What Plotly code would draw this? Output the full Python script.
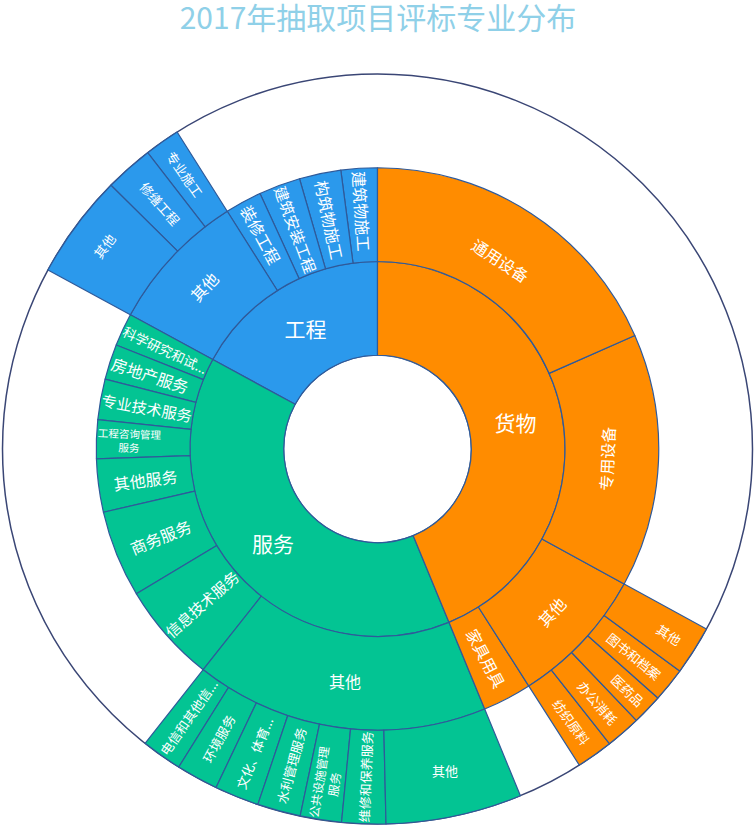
import plotly.graph_objects as go

# ---------------- data (clockwise order from 12 o'clock) ----------------
title_text = "2017年抽取项目评标专业分布"

top_names = ["货物", "服务", "工程"]

goods_names = ["通用设备", "专用设备", "其他", "家具用具"]
goods_values = [66.2, 52.5, 0, 10.15]
goods_other_names = ["其他", "图书和档案", "医药品", "办公消耗", "纺织原料"]
goods_other_values = [7.6, 5.3, 4.75, 5.45, 5.65]

service_names = ["其他", "信息技术服务", "商务服务", "其他服务", "工程咨询管理<br>服务",
                 "专业技术服务", "房地产服务", "科学研究和试..."]
service_values = [0, 20.7, 18.0, 11.0, 8.0, 8.4, 7.3, 6.8]
service_other_names = ["其他", "维修和保养服务", "公共设施管理<br>服务", "水利管理服务",
                       "文化、体育...", "环境服务", "电信和其他信..."]
service_other_values = [21.1, 6.8, 6.4, 6.7, 6.9, 6.5, 6.3]

eng_names = ["其他", "装修工程", "建筑安装工程", "构筑物施工", "建筑物施工"]
eng_values = [0, 7.6, 8.6, 8.6, 7.5]
eng_other_names = ["其他", "修缮工程", "专业施工"]
eng_other_values = [16.2, 7.5, 5.5]

# ---------------- styles ----------------
top_colors = {"货物": "#ff8c00", "服务": "#03c493", "工程": "#2b99ec"}
level_font = {0: 1, 1: 21, 2: 16, 3: 13}
border_color = "#2f5a9a"
circle_color = "#3a4675"
horizontal_ids = {"货物", "服务", "工程", "服务/其他", "服务/其他/其他"}
tangential_ids = {"货物/通用设备", "货物/专用设备", "货物/其他", "工程/其他", "工程/其他/其他"}

ids, labels, parents, values, colors, fsizes = [], [], [], [], [], []


def add(node_id, label, parent, value, color, level):
    ids.append(node_id)
    labels.append(label)
    parents.append(parent)
    values.append(value)
    colors.append(color)
    fsizes.append(level_font[level])


add("root", "", "", 0, "#ffffff", 0)

children = {
    "货物": (goods_names, goods_values, {"其他": (goods_other_names, goods_other_values)}),
    "服务": (service_names, service_values, {"其他": (service_other_names, service_other_values)}),
    "工程": (eng_names, eng_values, {"其他": (eng_other_names, eng_other_values)}),
}

# plotly lays slices counter-clockwise, so feed each level reversed
for top in reversed(top_names):
    col = top_colors[top]
    add(top, top, "root", 0, col, 1)
    names, vals, subs = children[top]
    for name, val in reversed(list(zip(names, vals))):
        nid = top + "/" + name
        add(nid, name, top, val, col, 2)
        if name in subs:
            snames, svals = subs[name]
            for sname, sval in reversed(list(zip(snames, svals))):
                add(nid + "/" + sname, sname, nid, sval, col, 3)


def group_of(i):
    if ids[i] in horizontal_ids:
        return "horizontal"
    if ids[i] in tangential_ids:
        return "tangential"
    return "radial"


W, H = 756, 829
cx, cy, R = 377.5, 449, 375
dom = dict(x=[(cx - R) / W, (cx + R) / W], y=[1 - (cy + R) / H, 1 - (cy - R) / H])
n = len(ids)

fig = go.Figure()
for k, orient in enumerate(["horizontal", "tangential", "radial"]):
    texts = [labels[i] if (group_of(i) == orient and labels[i]) else "" for i in range(n)]
    base = k == 0
    fig.add_trace(go.Sunburst(
        ids=ids, labels=labels, parents=parents, values=values,
        branchvalues="remainder", sort=False, rotation=90,
        marker=dict(colors=colors if base else ["rgba(0,0,0,0)"] * n,
                    line=dict(color=border_color if base else "rgba(0,0,0,0)",
                              width=1.2 if base else 0)),
        leaf=dict(opacity=1),
        text=texts, textinfo="text",
        insidetextorientation=orient,
        textfont=dict(color="white", size=fsizes, family="Noto Sans CJK SC"),
        hovertext=[l.replace("<br>", "") for l in labels],
        hoverinfo="text+value" if base else "skip",
        domain=dom,
    ))

fig.add_shape(type="circle", xref="paper", yref="paper", layer="below",
              x0=dom["x"][0], x1=dom["x"][1], y0=dom["y"][0], y1=dom["y"][1],
              fillcolor="white", line=dict(color=circle_color, width=1.5))

fig.update_layout(
    width=W, height=H,
    margin=dict(l=0, r=0, t=0, b=0),
    paper_bgcolor="white",
    title=dict(text=title_text, x=0.5, xanchor="center", y=1 - 18 / H, yanchor="middle",
               font=dict(size=30, color="#8fd0e8", family="Noto Sans CJK SC")),
)

fig.write_html("out.html")
